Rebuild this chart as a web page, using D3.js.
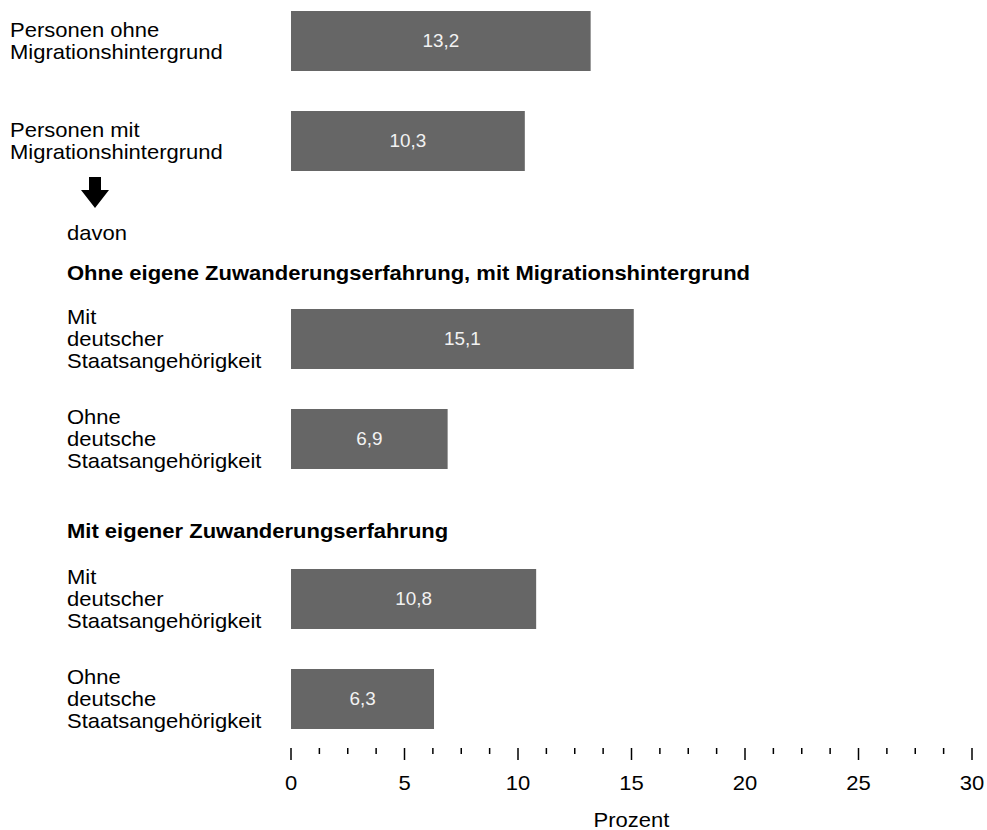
<!DOCTYPE html>
<html><head><meta charset="utf-8">
<script src="https://cdn.jsdelivr.net/npm/d3@7"></script>
<style>body{margin:0;background:#fff}text{font-family:"Liberation Sans",Arial,sans-serif}</style>
</head><body><svg id="c" width="987" height="830"></svg>
<script>
const group1Labels = [["Personen ohne","Migrationshintergrund"],["Personen mit","Migrationshintergrund"]];
const group1Values = [13.2, 10.3];
const group2Title = "Ohne eigene Zuwanderungserfahrung, mit Migrationshintergrund";
const group2Labels = [["Mit","deutscher","Staatsangehörigkeit"],["Ohne","deutsche","Staatsangehörigkeit"]];
const group2Values = [15.1, 6.9];
const group3Title = "Mit eigener Zuwanderungserfahrung";
const group3Labels = [["Mit","deutscher","Staatsangehörigkeit"],["Ohne","deutsche","Staatsangehörigkeit"]];
const group3Values = [10.8, 6.3];
const tickMajor = [0,5,10,15,20,25,30];
const axisTitle = "Prozent";
const fmt = v => String(v).replace(".", ",");

const FS = 20, SX = 1.1;
const svg = d3.select("#c");
const x = d3.scaleLinear().domain([0,30]).range([291,972]);

function txt(parent, tx, ty, s, opts={}){
  const t = parent.append("text")
    .attr("transform",`translate(${tx},${ty}) scale(${opts.sx||SX},1)`)
    .attr("dy","0.35em").attr("font-size",opts.fs||FS)
    .attr("fill",opts.fill||"#000").attr("text-anchor",opts.anchor||"start")
    .text(s);
  if(opts.bold) t.attr("font-weight","bold");
  return t;
}

function drawGroup(labels, values, range, labelX){
  const y = d3.scaleBand().domain(d3.range(values.length)).range(range).paddingInner(0.4).paddingOuter(0);
  const g = svg.append("g");
  values.forEach((v,i)=>{
    g.append("rect").attr("x",x(0)).attr("y",y(i)).attr("width",x(v)-x(0)).attr("height",y.bandwidth()).attr("fill","#666666");
    txt(g,(x(0)+x(v))/2, y(i)+y.bandwidth()/2, fmt(v), {anchor:"middle",fill:"#f2f2f2",fs:18,sx:1.05});
    const lines = labels[i];
    const lh = 22;
    const c = y(i)+y.bandwidth()/2;
    lines.forEach((t,j)=>{
      txt(g, labelX, c+(j-(lines.length-1)/2)*lh, t);
    });
  });
}
drawGroup(group1Labels, group1Values, [11,171], 10);
drawGroup(group2Labels, group2Values, [309,469], 67);
drawGroup(group3Labels, group3Values, [569,729], 67);

// arrow
svg.append("path").attr("d","M89,177 H101 V190 H109 L95,208 L81,190 H89 Z").attr("fill","#000");
txt(svg, 67, 233, "davon");
txt(svg, 67, 273, group2Title, {bold:true});
txt(svg, 67, 531, group3Title, {bold:true});

// axis
const ticksAll = d3.range(0,30.001,1.25);
const ax = svg.append("g");
ax.selectAll("line").data(ticksAll).join("line")
  .attr("x1",d=>x(d)).attr("x2",d=>x(d))
  .attr("y1",748).attr("y2",d=>tickMajor.includes(d)?760:754)
  .attr("stroke","#000").attr("stroke-width",1.5);
tickMajor.forEach(d=>txt(ax, x(d), 783, String(d), {anchor:"middle"}));
txt(svg, (x(0)+x(30))/2, 820, axisTitle, {anchor:"middle"});
</script></body></html>
